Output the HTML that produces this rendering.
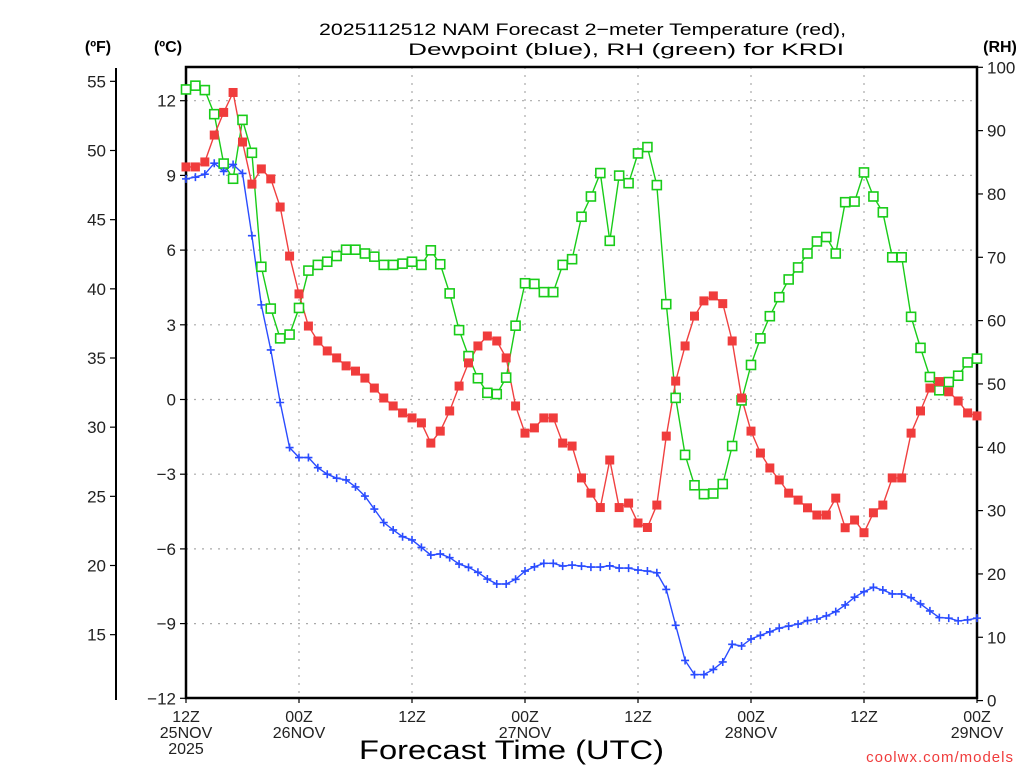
<!DOCTYPE html>
<html><head><meta charset="utf-8">
<style>
html,body{margin:0;padding:0;background:#fff;}
svg{display:block;font-family:"Liberation Sans","DejaVu Sans",sans-serif;}
</style></head>
<body>
<svg id="chart" width="1024" height="768" viewBox="0 0 1024 768" xmlns="http://www.w3.org/2000/svg">
<rect width="1024" height="768" fill="#fff"/>
<text x="319" y="35" textLength="527" lengthAdjust="spacingAndGlyphs" font-size="17" fill="#000">2025112512 NAM Forecast 2−meter Temperature (red),</text>
<text x="408" y="55" textLength="436" lengthAdjust="spacingAndGlyphs" font-size="17" fill="#000">Dewpoint (blue), RH (green) for KRDI</text>
<text x="98" y="52" text-anchor="middle" font-size="16" font-weight="bold">(ºF)</text>
<text x="168" y="52" text-anchor="middle" font-size="16" font-weight="bold">(ºC)</text>
<text x="1000" y="52" text-anchor="middle" font-size="16" font-weight="bold">(RH)</text>
<g id="grid"></g>
<g id="axes"></g>
<g id="series"></g>
<text x="359" y="759" textLength="305" lengthAdjust="spacingAndGlyphs" font-size="27" fill="#000">Forecast Time (UTC)</text>
<text x="1014" y="762" text-anchor="end" font-size="15" letter-spacing="1" fill="#f03c3c">coolwx.com/models</text>
</svg>
<script>
const hoursCount = 85;
const tempC = [9.34,9.34,9.54,10.62,11.53,12.33,10.34,8.65,9.26,8.86,7.73,5.76,4.24,2.95,2.35,1.95,1.67,1.35,1.14,0.86,0.46,0.06,-0.26,-0.54,-0.74,-0.94,-1.75,-1.27,-0.46,0.54,1.47,2.15,2.55,2.35,1.67,-0.26,-1.35,-1.14,-0.74,-0.74,-1.75,-1.87,-3.15,-3.76,-4.34,-2.43,-4.34,-4.16,-4.96,-5.14,-4.24,-1.47,0.74,2.15,3.35,3.96,4.16,3.85,2.35,0.06,-1.27,-2.15,-2.75,-3.23,-3.76,-4.04,-4.35,-4.64,-4.64,-3.96,-5.15,-4.84,-5.35,-4.55,-4.24,-3.15,-3.15,-1.35,-0.46,0.46,0.72,0.31,-0.06,-0.54,-0.66];
const dewC = [8.86,8.93,9.05,9.49,9.16,9.44,9.08,6.58,3.80,1.99,-0.12,-1.93,-2.33,-2.33,-2.74,-3.00,-3.16,-3.23,-3.51,-3.88,-4.40,-4.94,-5.24,-5.51,-5.64,-5.94,-6.25,-6.20,-6.35,-6.61,-6.74,-6.94,-7.21,-7.41,-7.41,-7.22,-6.89,-6.72,-6.58,-6.58,-6.69,-6.65,-6.69,-6.73,-6.73,-6.68,-6.77,-6.77,-6.85,-6.89,-6.96,-7.63,-9.07,-10.48,-11.05,-11.05,-10.84,-10.54,-9.83,-9.90,-9.62,-9.47,-9.33,-9.18,-9.10,-9.02,-8.88,-8.82,-8.69,-8.52,-8.25,-7.94,-7.72,-7.54,-7.65,-7.81,-7.81,-7.96,-8.21,-8.49,-8.76,-8.78,-8.89,-8.85,-8.78];
const rhPct = [96.5,97.1,96.4,92.6,84.8,82.4,91.7,86.5,68.5,61.9,57.2,57.8,62.0,67.9,68.8,69.3,70.2,71.2,71.2,70.6,70.1,68.8,68.8,69.0,69.3,68.8,71.1,68.9,64.3,58.5,54.4,50.9,48.6,48.4,51.0,59.2,65.9,65.8,64.5,64.5,68.8,69.7,76.4,79.6,83.3,72.6,82.9,81.7,86.4,87.4,81.4,62.6,47.8,38.8,34.0,32.6,32.7,34.2,40.2,47.4,53.0,57.2,60.7,63.7,66.5,68.4,70.6,72.5,73.2,70.6,78.7,78.8,83.4,79.6,77.1,70.0,70.0,60.6,55.7,51.1,49.0,50.3,51.3,53.4,54.0];
const cTicks = [12,9,6,3,0,-3,-6,-9,-12];
const fTicks = [55,50,45,40,35,30,25,20,15];
const rhTicks = [0,10,20,30,40,50,60,70,80,90,100];
const xTickHours = [0,12,24,36,48,60,72,84];
const xTickLabels = [["12Z","25NOV","2025"],["00Z","26NOV"],["12Z"],["00Z","27NOV"],["12Z"],["00Z","28NOV"],["12Z"],["00Z","29NOV"]];

const NS="http://www.w3.org/2000/svg";
const L=186, R=977, T=67, B=698;
const xH = h => L + (R-L)*h/84;
const yC = c => 399.5 - c*24.9;
const yF = f => yC((f-32)/1.8);
const yRH = r => 700.6 - r*6.333;
function mk(tag, parent, attrs){const e=document.createElementNS(NS,tag);for(const k in attrs)e.setAttribute(k,attrs[k]);parent.appendChild(e);return e;}
const grid=document.getElementById('grid'), axes=document.getElementById('axes'), series=document.getElementById('series');

cTicks.forEach(c=>{const y=yC(c);
  const g=mk('line',grid,{x1:L,x2:R,y1:y,y2:y,stroke:'#aaa','stroke-width':1.2,'stroke-dasharray':'2,6'});
  
  
});
xTickHours.forEach(h=>{const x=xH(h);
  const g=mk('line',grid,{x1:x,x2:x,y1:T,y2:B,stroke:'#aaa','stroke-width':1.2,'stroke-dasharray':'2,6'});
  
  
});

const fr=mk('rect',axes,{x:L,y:T,width:R-L,height:B-T,fill:'none',stroke:'#000','stroke-width':2.5});


const fl=mk('line',axes,{x1:116,x2:116,y1:68,y2:700,stroke:'#000','stroke-width':2});


fTicks.forEach(f=>{const y=yF(f);
  mk('line',axes,{x1:110,x2:116,y1:y,y2:y,stroke:'#000','stroke-width':1.2});
  const t=mk('text',axes,{x:106,y:y+6,'text-anchor':'end','font-size':17,fill:'#222'});t.textContent=f;
  
  
});
cTicks.forEach(c=>{const y=yC(c);
  mk('line',axes,{x1:180,x2:186,y1:y,y2:y,stroke:'#000','stroke-width':1.2});
  const t=mk('text',axes,{x:176,y:y+6,'text-anchor':'end','font-size':17,fill:'#222'});t.textContent=(c<0?'−'+(-c):c);
  
  
});
rhTicks.forEach(r=>{const y=yRH(r);
  mk('line',axes,{x1:977,x2:983,y1:y,y2:y,stroke:'#000','stroke-width':1.2});
  const t=mk('text',axes,{x:987,y:y+6,'text-anchor':'start','font-size':17,fill:'#222'});t.textContent=r;
  
  
});
xTickHours.forEach((h,i)=>{const x=xH(h);
  mk('line',axes,{x1:x,x2:x,y1:B,y2:B+5,stroke:'#000','stroke-width':1.2});
  xTickLabels[i].forEach((s,j)=>{
    const t=mk('text',axes,{x:x,y:722+j*16,'text-anchor':'middle','font-size':16,fill:'#222'});t.textContent=s;
    
    
  });
});

function line(vals, yf, color, name){
  const pts=vals.map((v,i)=>xH(i).toFixed(1)+','+yf(v).toFixed(1)).join(' ');
  const p=mk('polyline',series,{points:pts,fill:'none',stroke:color,'stroke-width':1.4});
  
  
}
line(rhPct,yRH,'#19cc19','rh-line');
line(tempC,yC,'#f04040','temperature-line');
line(dewC,yC,'#2a4cff','dewpoint-line');
rhPct.forEach((v,i)=>{const x=xH(i),y=yRH(v);
  const m=mk('rect',series,{x:x-4.5,y:y-4.5,width:9,height:9,fill:'#fff',stroke:'#19cc19','stroke-width':1.6});
  
  
});
tempC.forEach((v,i)=>{const x=xH(i),y=yC(v);
  const m=mk('rect',series,{x:x-4.5,y:y-4.5,width:9,height:9,fill:'#f03c3c'});
  
  
});
dewC.forEach((v,i)=>{const x=xH(i),y=yC(v);
  const m=mk('path',series,{d:`M${x-4},${y}H${x+4}M${x},${y-4}V${y+4}`,stroke:'#2a4cff','stroke-width':1.6,fill:'none'});
  
  
});
</script>
</body></html>
